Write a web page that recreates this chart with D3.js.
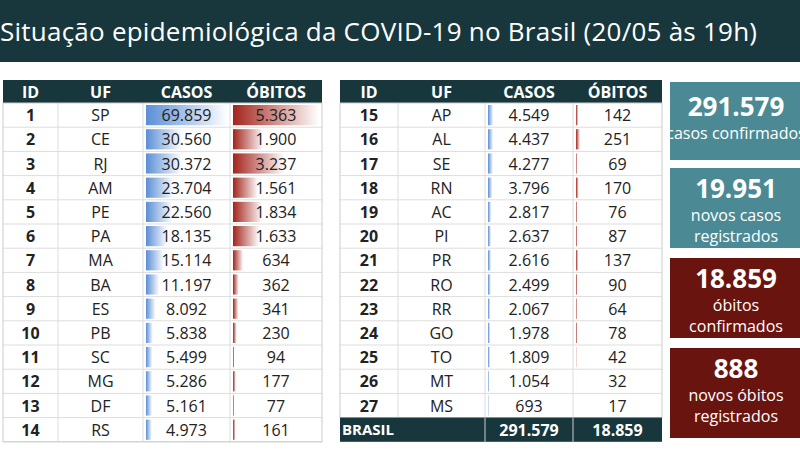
<!DOCTYPE html>
<head>
<meta charset="utf-8">
<style>
body { margin: 0; background: #fff; }
text { font-family: "Open Sans", sans-serif; }
</style>
</head>
<body>
<svg width="800" height="450"></svg>
<script src="https://cdn.jsdelivr.net/npm/d3@7"></script>
<script>
var ids = d3.range(1, 28)
var ufs = ["SP","CE","RJ","AM","PE","PA","MA","BA","ES","PB","SC","MG","DF","RS",
  "AP","AL","SE","RN","AC","PI","PR","RO","RR","GO","TO","MT","MS"]
var casos = [69859,30560,30372,23704,22560,18135,15114,11197,8092,5838,5499,5286,5161,4973,
  4549,4437,4277,3796,2817,2637,2616,2499,2067,1978,1809,1054,693]
var obitos = [5363,1900,3237,1561,1834,1633,634,362,341,230,94,177,77,161,
  142,251,69,170,76,87,137,90,64,78,42,32,17]
var cards = [
  {big: "291.579", lines: ["casos confirmados"], color: "#4b8a94"},
  {big: "19.951", lines: ["novos casos", "registrados"], color: "#4b8a94"},
  {big: "18.859", lines: ["óbitos", "confirmados"], color: "#6a1410"},
  {big: "888", lines: ["novos óbitos", "registrados"], color: "#6a1410"}
]
var fmt = d3.format(",")
function br(v) { return fmt(v).replace(/,/g, ".") }

var svg = d3.select("svg")
var dark = "#17373d"

svg.append("rect").attr("width", 800).attr("height", 62).attr("fill", dark)
svg.append("text").attr("x", 0).attr("y", 41).attr("fill", "#fff")
  .attr("font-size", 26).attr("textLength", 757).text("Situação epidemiológica da COVID-19 no Brasil (20/05 às 19h)")

var defs = svg.append("defs")
function grad(id, c) {
  var g = defs.append("linearGradient").attr("id", id)
  g.append("stop").attr("offset", "0%").attr("stop-color", c)
  g.append("stop").attr("offset", "100%").attr("stop-color", "#fff")
}
grad("gBlue", "#5b8fd6")
grad("gRed", "#a3251c")

var xC = d3.scaleLinear().domain([0, d3.max(casos)]).range([0, 82])
var xO = d3.scaleLinear().domain([0, d3.max(obitos)]).range([0, 86])

function table(x0, cols, start, n, rowH, total) {
  var hdrY = 80, hdrH = 23
  var xs = [x0]
  cols.forEach(function(w) { xs.push(xs[xs.length - 1] + w) })
  var W = xs[4] - x0
  svg.append("rect").attr("x", x0).attr("y", hdrY).attr("width", W).attr("height", hdrH).attr("fill", dark)
  ;["ID", "UF", "CASOS", "ÓBITOS"].forEach(function(h, i) {
    svg.append("text").attr("x", (xs[i] + xs[i + 1]) / 2).attr("y", hdrY + 18)
      .attr("text-anchor", "middle").attr("fill", "#fff").attr("font-weight", "bold")
      .attr("font-size", 16).text(h)
  })
  var rows = d3.range(start, start + n)
  var y = function(j) { return hdrY + hdrH + j * rowH }
  var g = svg.append("g")
  rows.forEach(function(r, j) {
    var ry = y(j)
    g.append("rect").attr("x", xs[2] + 3).attr("y", ry + 2).attr("width", xC(casos[r]))
      .attr("height", rowH - 4).attr("fill", "url(#gBlue)")
    g.append("rect").attr("x", xs[3] + 3).attr("y", ry + 2).attr("width", xO(obitos[r]))
      .attr("height", rowH - 4).attr("fill", "url(#gRed)")
    var vals = [ids[r], ufs[r], br(casos[r]), br(obitos[r])]
    vals.forEach(function(v, i) {
      g.append("text").attr("x", (xs[i] + xs[i + 1]) / 2).attr("y", ry + rowH / 2 + 6)
        .attr("text-anchor", "middle").attr("font-size", 16).attr("fill", "#222")
        .attr("font-weight", i == 0 ? "bold" : "normal").text(v)
    })
    g.append("line").attr("x1", x0).attr("x2", xs[4]).attr("y1", ry + rowH).attr("y2", ry + rowH)
      .attr("stroke", "#ddd")
  })
  var bottom = y(n)
  xs.slice(1, 4).forEach(function(xx) {
    g.append("line").attr("x1", xx).attr("x2", xx).attr("y1", hdrY + hdrH).attr("y2", bottom)
      .attr("stroke", "#ddd")
  })
  svg.append("rect").attr("x", x0).attr("y", hdrY + hdrH).attr("width", W).attr("height", bottom - hdrY - hdrH)
    .attr("fill", "none").attr("stroke", "#ccc")
  if (total) {
    svg.append("rect").attr("x", x0).attr("y", bottom).attr("width", W).attr("height", rowH)
      .attr("fill", dark)
    svg.append("text").attr("x", x0 + 2).attr("y", bottom + rowH / 2 + 5).attr("fill", "#fff")
      .attr("font-weight", "bold").attr("font-size", 15).text("BRASIL")
    ;[d3.sum(casos), d3.sum(obitos)].forEach(function(v, i) {
      svg.append("text").attr("x", (xs[i + 2] + xs[i + 3]) / 2).attr("y", bottom + rowH / 2 + 6)
        .attr("text-anchor", "middle").attr("fill", "#fff").attr("font-weight", "bold")
        .attr("font-size", 16).text(br(v))
    })
    ;[xs[2], xs[3]].forEach(function(xx) {
      svg.append("line").attr("x1", xx).attr("x2", xx).attr("y1", bottom).attr("y2", bottom + rowH)
        .attr("stroke", "#ccc")
    })
  }
}
table(3, [55, 85, 87, 92], 0, 14, 24.2, false)
table(340, [58, 87, 88, 89], 14, 13, 24.2, true)

var cardY = [82, 168, 258, 348], cardH = [78, 80, 80, 90]
cards.forEach(function(c, i) {
  var y0 = cardY[i]
  svg.append("rect").attr("x", 670).attr("y", y0).attr("width", 140).attr("height", cardH[i]).attr("fill", c.color)
  var cy = y0 + (c.lines.length == 1 ? 34 : 30)
  svg.append("text").attr("x", 736).attr("y", cy).attr("text-anchor", "middle").attr("fill", "#fff")
    .attr("font-weight", "bold").attr("font-size", 26).text(c.big)
  c.lines.forEach(function(l, k) {
    svg.append("text").attr("x", 736).attr("y", cy + 23 + k * 21).attr("text-anchor", "middle")
      .attr("fill", "#fff").attr("font-size", 16).text(l)
  })
})
</script>
</body>
